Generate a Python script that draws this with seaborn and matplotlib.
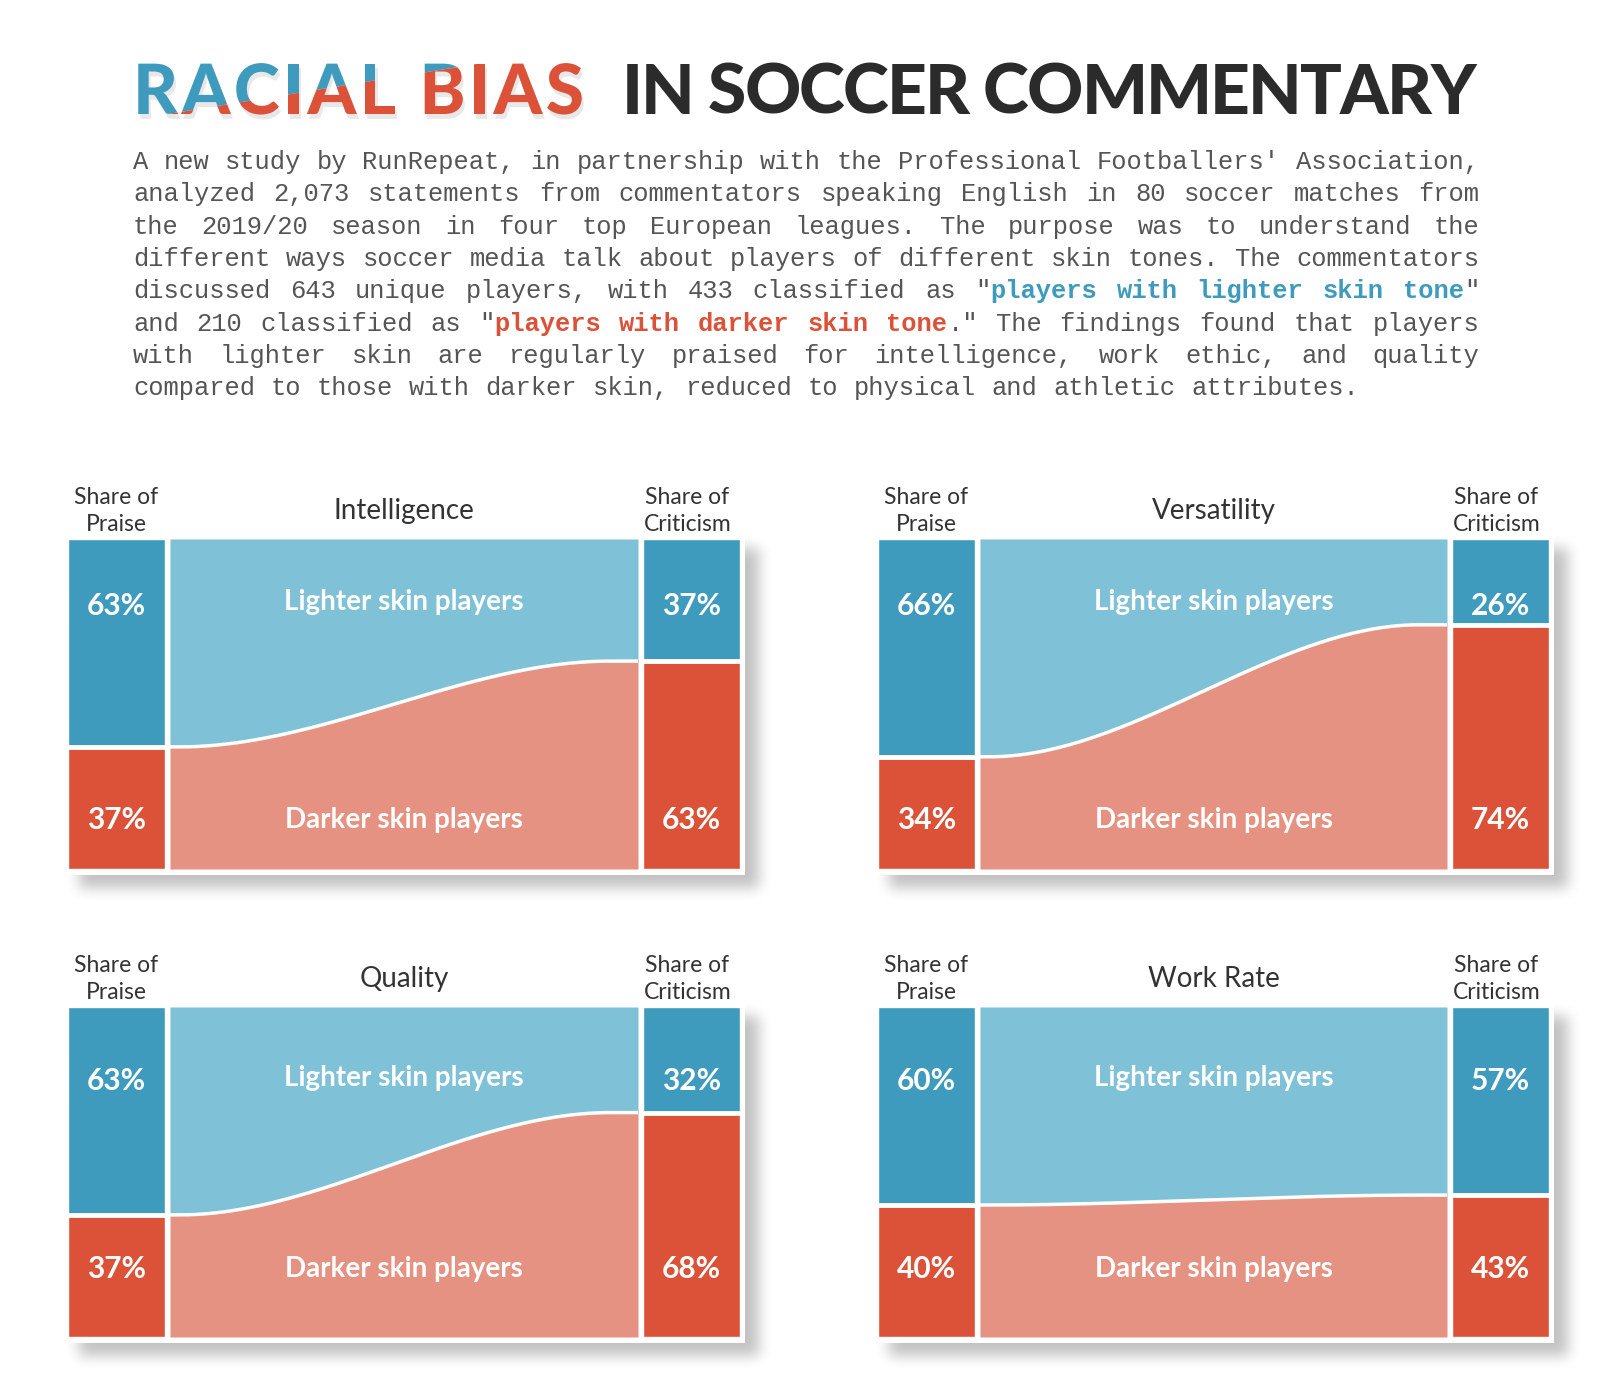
"""
Racial bias in soccer commentary: 4 small flow panels (praise vs criticism)
"""

import numpy as np
import pandas as pd
import matplotlib
matplotlib.use("Agg")
import matplotlib.pyplot as plt
import matplotlib.patheffects as pe
from matplotlib.patches import Polygon
import seaborn as sns

# ====== data ======
categories = ["Intelligence", "Versatility", "Quality", "Work Rate"]
praise_lighter = [63, 66, 63, 60]
praise_darker = [37, 34, 37, 40]
criticism_lighter = [37, 26, 32, 57]
criticism_darker = [63, 74, 68, 43]
flow_labels = ["Lighter skin players", "Darker skin players"]
praise_header = "Share of\nPraise"
criticism_header = "Share of\nCriticism"

title_left = "RACIAL BIAS"
title_right = "IN SOCCER COMMENTARY"
body_lines = [
    "A new study by RunRepeat, in partnership with the Professional Footballers' Association,",
    "analyzed 2,073 statements from commentators speaking English in 80 soccer matches from",
    "the 2019/20 season in four top European leagues. The purpose was to understand the",
    "different ways soccer media talk about players of different skin tones. The commentators",
    "discussed 643 unique players, with 433 classified as \"players with lighter skin tone\"",
    "and 210 classified as \"players with darker skin tone.\" The findings found that players",
    "with lighter skin are regularly praised for intelligence, work ethic, and quality",
    "compared to those with darker skin, reduced to physical and athletic attributes.",
]
highlight_blue = "players with lighter skin tone"
highlight_red = "players with darker skin tone"

# ====== style ======
BLUE = "#3F9BBE"
RED = "#DB5238"
LBLUE = "#7FC1D7"
PINK = "#E59282"
INK = "#333333"
BODY = "#555555"

sns.set_theme(style="white")
plt.rcParams["font.family"] = ["Lato", "DejaVu Sans"]

W, H = 1600, 1389
fig = plt.figure(figsize=(W / 100, H / 100), dpi=100)
fig.patch.set_facecolor("white")
renderer = fig.canvas.get_renderer()


def rect(x0, y0, x1, y1):
    """pixel box (top-left origin) -> figure rect"""
    return [x0 / W, 1 - y1 / H, (x1 - x0) / W, (y1 - y0) / H]


def fx(x):
    return x / W


def fy(y):
    return 1 - y / H


# ====== panel layout (pixels) ======
col_x = [
    ((68, 165), (170, 638), (643, 740)),
    ((878, 975), (980, 1447), (1452, 1549)),
]
row_y = [(539, 869), (1007, 1337)]
# label heights in % of panel (top / bottom)
label_y = [(20.2, 85.2), (22.5, 79.5)]

panels = []
for i in range(4):
    r, c = divmod(i, 2)
    panels.append((col_x[c], row_y[r], label_y[r]))


# ====== card shadows ======
def blur(a, rad):
    k = np.ones(2 * rad + 1) / (2 * rad + 1)
    for _ in range(3):
        a = np.apply_along_axis(lambda v: np.convolve(v, k, mode="same"), 0, a)
        a = np.apply_along_axis(lambda v: np.convolve(v, k, mode="same"), 1, a)
    return a


mask = np.zeros((H, W))
cards = []
for (px, fl, cr), (y0, y1), _ in panels:
    cx0, cy0, cx1, cy1 = px[0] - 3, y0 - 3, cr[1] + 5, y1 + 6
    cards.append((cx0, cy0, cx1, cy1))
    mask[cy0 + 12:cy1 + 13, cx0 + 14:cx1 + 14] = 1
shade = 1 - 0.24 * blur(mask, 6)
for cx0, cy0, cx1, cy1 in cards:
    shade[cy0:cy1, cx0:cx1] = 1

ax_bg = fig.add_axes([0, 0, 1, 1], zorder=-5)
ax_bg.imshow(shade, cmap="gray", vmin=0, vmax=1, extent=(0, W, H, 0),
             aspect="auto", interpolation="bilinear")
ax_bg.axis("off")


# ====== drawing helpers ======
def draw_bar(box, ybox, lighter, side, ly):
    ax = fig.add_axes(rect(box[0], ybox[0], box[1], ybox[1]))
    df = pd.DataFrame({"side": [side], "total": [100], "lighter": [lighter]})
    sns.barplot(data=df, x="side", y="total", color=RED, saturation=1,
                width=1, errorbar=None, ax=ax)
    sns.barplot(data=df, x="side", y="lighter", color=BLUE, saturation=1,
                width=1, errorbar=None, ax=ax)
    ax.axhline(lighter, color="white", lw=3.5)
    ax.set_xlim(-0.5, 0.5)
    ax.set_ylim(100, 0)
    ax.axis("off")
    ax.text(0, ly[0], f"{lighter}%", ha="center", va="center", color="white",
            fontsize=21.5, fontweight="bold")
    ax.text(0, ly[1], f"{100 - lighter}%", ha="center", va="center",
            color="white", fontsize=21.5, fontweight="bold")


def draw_flow(box, ybox, p, c, ly):
    ax = fig.add_axes(rect(box[0], ybox[0], box[1], ybox[1]))
    x = np.linspace(0, 1, 400)
    t = np.clip((x - 0.02) / 0.92, 0, 1)
    s = t * t * (3 - 2 * t)
    b = p + (c - p) * s
    ax.fill_between(x, 0, b, color=LBLUE, lw=0)
    ax.fill_between(x, b, 100, color=PINK, lw=0)
    ax.plot(x, b, color="white", lw=2.5)
    ax.set_xlim(0, 1)
    ax.set_ylim(100, 0)
    ax.axis("off")
    ax.text(0.5, ly[0] - 1, flow_labels[0], ha="center", va="center",
            color="white", fontsize=20, fontweight="bold")
    ax.text(0.5, ly[1], flow_labels[1], ha="center", va="center",
            color="white", fontsize=20, fontweight="bold")


for i, ((px, fl, cr), (y0, y1), ly) in enumerate(panels):
    draw_bar(px, (y0, y1), praise_lighter[i], "Praise", ly)
    draw_flow(fl, (y0, y1), praise_lighter[i], criticism_lighter[i], ly)
    draw_bar(cr, (y0, y1), criticism_lighter[i], "Criticism", ly)
    fig.text(fx((px[0] + px[1]) / 2), fy(y0 - 28), praise_header,
             ha="center", va="center", fontsize=16.5, color=INK, linespacing=1.4)
    fig.text(fx((cr[0] + cr[1]) / 2 - 4), fy(y0 - 28), criticism_header,
             ha="center", va="center", fontsize=16.5, color=INK, linespacing=1.4)
    fig.text(fx((fl[0] + fl[1]) / 2), fy(y0 - 28), categories[i],
             ha="center", va="center", fontsize=20, color=INK)


# ====== title (letters spread to the original width) ======
def char_widths(s, **kw):
    out = []
    for ch in s:
        if ch == " ":
            a = fig.text(0, 0, "I I", **kw)
            b = fig.text(0, 0, "II", **kw)
            w = a.get_window_extent(renderer).width - b.get_window_extent(renderer).width
            a.remove()
            b.remove()
        else:
            t = fig.text(0, 0, ch, **kw)
            w = t.get_window_extent(renderer).width
            t.remove()
        out.append(w)
    return out


def spread_text(s, x0, x1, ybase, clips=None, **kw):
    ws = char_widths(s, **kw)
    track = (x1 - x0 - sum(ws)) / (len(s) - 1)
    x = x0
    for ch, w in zip(s, ws):
        if ch != " ":
            if clips is None:
                fig.text(fx(x), ybase, ch, ha="left", va="baseline", **kw)
            else:
                for col, poly in clips:
                    t = fig.text(fx(x), ybase, ch, ha="left", va="baseline",
                                 color=col, **kw)
                    t.set_clip_path(poly)
        x += w + track


title_kw = dict(fontsize=50, fontweight="black")
base = fy(114)
spread_text(title_right, 622, 1476, base, color="#2b2b2b", **title_kw)

blue_poly = Polygon([(fx(100), fy(0)), (fx(600), fy(0)), (fx(600), fy(44)),
                     (fx(100), fy(125))], closed=True, transform=fig.transFigure)
red_poly = Polygon([(fx(100), fy(125)), (fx(600), fy(44)), (fx(600), fy(200)),
                    (fx(100), fy(200))], closed=True, transform=fig.transFigure)
shadow = [pe.SimplePatchShadow(offset=(1.5, -3.5), shadow_rgbFace="#999999", alpha=0.22),
          pe.Normal()]
spread_text(title_left, 133, 584, base, clips=[(BLUE, blue_poly), (RED, red_poly)],
            path_effects=shadow, **title_kw)

# ====== body text (justified, monospace) ======
fs = 18.4
cw = 0.6 * fs * 100 / 72
left, right = 133, 1480
for li, line in enumerate(body_lines):
    style = ["n"] * len(line)
    for phrase, tag in ((highlight_blue, "b"), (highlight_red, "r")):
        k = line.find(phrase)
        if k >= 0:
            style[k:k + len(phrase)] = [tag] * len(phrase)
    words = line.split(" ")
    nchar = sum(len(w) for w in words)
    if li == len(body_lines) - 1:
        gap = cw
    else:
        gap = (right - left - nchar * cw) / (len(words) - 1)
    ybase = fy(162 + li * 32.35 + 7)
    x = left
    pos = 0
    for w in words:
        j = 0
        while j < len(w):
            tag = style[pos + j]
            k = j
            while k < len(w) and style[pos + k] == tag:
                k += 1
            color = {"n": BODY, "b": BLUE, "r": RED}[tag]
            weight = "normal" if tag == "n" else "bold"
            fig.text(fx(x + j * cw), ybase, w[j:k], ha="left", va="baseline",
                     family="Liberation Mono", fontsize=fs, color=color,
                     fontweight=weight)
            j = k
        x += len(w) * cw + gap
        pos += len(w) + 1

fig.savefig("out.png", dpi=100, facecolor="white")
